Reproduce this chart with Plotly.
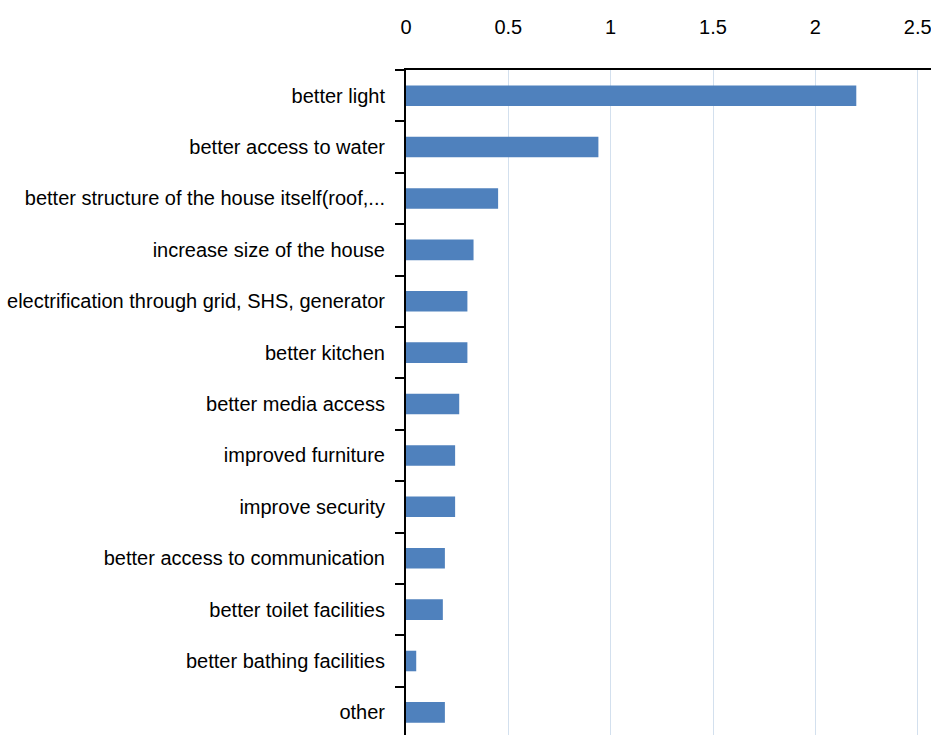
import plotly.graph_objects as go

categories = [
    "better light",
    "better access to water",
    "better structure of the house itself(roof,...",
    "increase size of the house",
    "electrification through grid, SHS, generator",
    "better kitchen",
    "better media access",
    "improved furniture",
    "improve security",
    "better access to communication",
    "better toilet facilities",
    "better bathing facilities",
    "other",
]
values = [2.2, 0.94, 0.45, 0.33, 0.3, 0.3, 0.26, 0.24, 0.24, 0.19, 0.18, 0.05, 0.19]
x_ticks = [0, 0.5, 1, 1.5, 2, 2.5]
x_tick_labels = ["0", "0.5", "1", "1.5", "2", "2.5"]

font = dict(family="Liberation Sans, Arial, sans-serif", size=20, color="#000000")

fig = go.Figure(
    go.Bar(
        x=values,
        y=categories,
        orientation="h",
        marker=dict(color="#4f81bd", line=dict(width=0)),
        width=0.4,
    )
)

fig.update_layout(
    width=931,
    height=735,
    margin=dict(l=406, r=0, t=70, b=0),
    paper_bgcolor="white",
    plot_bgcolor="white",
    showlegend=False,
    font=font,
    xaxis=dict(
        side="top",
        range=[0, 2.565],
        tickvals=x_ticks,
        ticktext=x_tick_labels,
        showgrid=True,
        gridcolor="#d3e0ee",
        gridwidth=1,
        zeroline=False,
        showline=True,
        linecolor="black",
        linewidth=2,
        ticks="",
        ticklabelstandoff=26,
        ticklabeloverflow="allow",
        tickfont=font,
    ),
    yaxis=dict(
        type="category",
        categoryorder="array",
        categoryarray=categories,
        range=[12.44, -0.5],
        showline=True,
        linecolor="black",
        linewidth=2,
        ticks="outside",
        tickson="boundaries",
        ticklen=9,
        tickwidth=2,
        tickcolor="black",
        showgrid=False,
        ticklabelstandoff=15,
        tickfont=font,
    ),
)

fig.write_html("out.html")
